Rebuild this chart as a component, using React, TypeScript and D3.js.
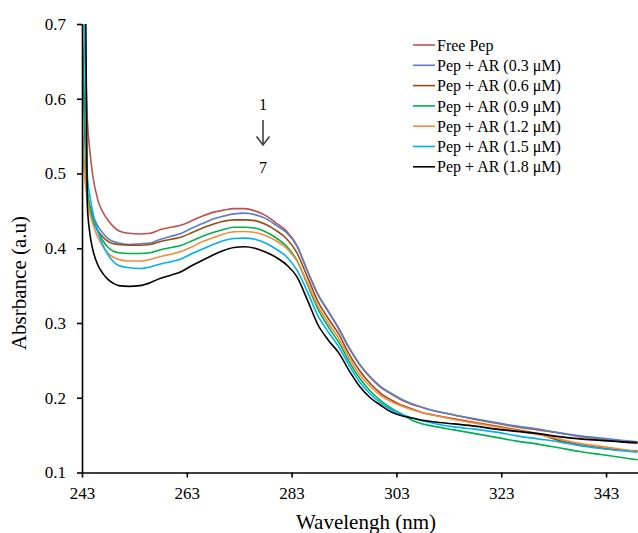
import React, { useEffect, useRef } from "react";
import * as d3 from "d3";

// wavelength grid (nm) shared by every series
const wavelengths = [
  243, 243.5, 244, 244.5, 245, 246, 247, 248, 249, 250,
  252, 254, 256, 258, 260, 262, 264, 266, 268, 270, 272, 274,
  276, 278, 280, 282, 284, 286, 288, 290, 292, 294, 296, 298, 300, 302, 304, 306, 308, 310,
  314, 318, 322, 326, 330, 334, 338, 342, 346, 349,
];

const freePep = [
  0.80, 0.69, 0.575, 0.53, 0.50, 0.465, 0.448, 0.437, 0.429, 0.4235,
  0.420, 0.419, 0.420, 0.425, 0.428, 0.431, 0.437, 0.443, 0.448, 0.451, 0.453, 0.453,
  0.450, 0.444, 0.434, 0.423, 0.404, 0.370, 0.338, 0.315, 0.292, 0.266, 0.244, 0.227, 0.214, 0.205, 0.197, 0.191, 0.187, 0.183,
  0.177, 0.171, 0.166, 0.161, 0.157, 0.153, 0.148, 0.145, 0.141, 0.139,
];
const ar03 = [
  0.56, 0.50, 0.47, 0.455, 0.445, 0.43, 0.42, 0.413, 0.409, 0.407,
  0.405, 0.406, 0.407, 0.412, 0.416, 0.420, 0.427, 0.433, 0.439, 0.443, 0.446, 0.447,
  0.445, 0.440, 0.431, 0.421, 0.403, 0.370, 0.339, 0.316, 0.293, 0.267, 0.245, 0.228, 0.215, 0.206, 0.198, 0.192, 0.187, 0.183,
  0.177, 0.172, 0.167, 0.162, 0.158, 0.153, 0.149, 0.146, 0.143, 0.141,
];
const ar06 = [
  0.70, 0.56, 0.475, 0.455, 0.44, 0.424, 0.415, 0.409, 0.406, 0.405,
  0.404, 0.404, 0.405, 0.409, 0.412, 0.415, 0.421, 0.427, 0.432, 0.436, 0.438, 0.438,
  0.437, 0.432, 0.424, 0.413, 0.394, 0.362, 0.329, 0.306, 0.285, 0.258, 0.236, 0.219, 0.206, 0.197, 0.190, 0.185, 0.180, 0.177,
  0.172, 0.167, 0.162, 0.157, 0.152, 0.143, 0.137, 0.133, 0.130, 0.129,
];
const ar09 = [
  0.70, 0.58, 0.48, 0.455, 0.44, 0.423, 0.410, 0.401, 0.396, 0.394,
  0.393, 0.393, 0.394, 0.398, 0.401, 0.404, 0.410, 0.416, 0.421, 0.425, 0.428, 0.428,
  0.427, 0.422, 0.414, 0.403, 0.384, 0.352, 0.319, 0.295, 0.274, 0.248, 0.226, 0.209, 0.196, 0.186, 0.178, 0.170, 0.165, 0.162,
  0.157, 0.152, 0.147, 0.142, 0.138, 0.133, 0.128, 0.124, 0.120, 0.117,
];
const ar12 = [
  0.575, 0.50, 0.465, 0.447, 0.434, 0.415, 0.402, 0.393, 0.388, 0.385,
  0.383, 0.383, 0.385, 0.389, 0.392, 0.396, 0.402, 0.409, 0.414, 0.419, 0.422, 0.4225,
  0.421, 0.417, 0.410, 0.400, 0.383, 0.354, 0.323, 0.300, 0.279, 0.253, 0.231, 0.215, 0.203, 0.195, 0.189, 0.184, 0.180, 0.177,
  0.171, 0.166, 0.161, 0.156, 0.151, 0.145, 0.139, 0.135, 0.131, 0.128,
];
const ar15 = [
  0.85, 0.68, 0.50, 0.47, 0.45, 0.423, 0.404, 0.391, 0.382, 0.377,
  0.374, 0.373, 0.375, 0.379, 0.382, 0.386, 0.393, 0.399, 0.405, 0.410, 0.413, 0.4135,
  0.412, 0.407, 0.399, 0.389, 0.371, 0.342, 0.310, 0.288, 0.268, 0.243, 0.221, 0.205, 0.193, 0.184, 0.178, 0.173, 0.169, 0.166,
  0.161, 0.158, 0.154, 0.149, 0.145, 0.141, 0.136, 0.132, 0.129, 0.127,
];
const ar18 = [
  1.2, 0.95, 0.46, 0.42, 0.40, 0.378, 0.366, 0.358, 0.353, 0.350,
  0.349, 0.350, 0.354, 0.360, 0.364, 0.369, 0.377, 0.384, 0.391, 0.397, 0.401, 0.402,
  0.400, 0.395, 0.388, 0.378, 0.362, 0.331, 0.298, 0.277, 0.260, 0.236, 0.215, 0.200, 0.190, 0.181, 0.176, 0.173, 0.170, 0.168,
  0.165, 0.162, 0.158, 0.155, 0.152, 0.148, 0.145, 0.143, 0.141, 0.140,
];

const seriesNames = [
  "Free Pep",
  "Pep + AR (0.3 μM)",
  "Pep + AR (0.6 μM)",
  "Pep + AR (0.9 μM)",
  "Pep + AR (1.2 μM)",
  "Pep + AR (1.5 μM)",
  "Pep + AR (1.8 μM)",
];
const seriesValues = [freePep, ar03, ar06, ar09, ar12, ar15, ar18];
const seriesColors = ["#C0504D", "#5B80C2", "#9C4A12", "#00B050", "#F58B3E", "#00B0F0", "#000000"];

const xTicks = [243, 263, 283, 303, 323, 343];
const yTicks = [0.1, 0.2, 0.3, 0.4, 0.5, 0.6, 0.7];

const FONT = "'Liberation Serif', 'Times New Roman', serif";

const App = () => {
  const svgRef = useRef<SVGSVGElement>(null);

  useEffect(() => {
    const width = 638, height = 533;
    const margin = { top: 24, right: 0, bottom: 60.5, left: 82 };

    const svg = d3.select(svgRef.current);
    svg.selectAll("*").remove();

    const x = d3.scaleLinear()
      .domain([243, 349.1])
      .range([margin.left, width - margin.right]);

    const y = d3.scaleLinear()
      .domain([0.1, 0.7])
      .range([height - margin.bottom, margin.top]);

    svg.append("defs").append("clipPath")
      .attr("id", "plot-clip")
      .append("rect")
      .attr("x", margin.left)
      .attr("y", margin.top)
      .attr("width", width - margin.left - margin.right)
      .attr("height", height - margin.top - margin.bottom);

    const line = d3.line<number>()
      .x((_, i) => x(wavelengths[i]))
      .y(d => y(d))
      .curve(d3.curveMonotoneX);

    const plot = svg.append("g").attr("clip-path", "url(#plot-clip)");
    seriesValues.forEach((vals, i) => {
      plot.append("path")
        .datum(vals)
        .attr("fill", "none")
        .attr("stroke", seriesColors[i])
        .attr("stroke-width", 1.6)
        .attr("stroke-linejoin", "round")
        .attr("d", line);
    });

    // X-axis
    const xAxis = svg.append("g")
      .attr("transform", `translate(0,${height - margin.bottom})`)
      .call(d3.axisBottom(x).tickValues(xTicks).tickSize(5).tickSizeOuter(0).tickPadding(9).tickFormat(d3.format("d")));

    // Y-axis
    const yAxis = svg.append("g")
      .attr("transform", `translate(${margin.left},0)`)
      .call(d3.axisLeft(y).tickValues(yTicks).tickSize(5).tickSizeOuter(0).tickPadding(11).tickFormat(d3.format(".1f")));

    [xAxis, yAxis].forEach(g => {
      g.select(".domain").attr("stroke", "#000").attr("stroke-width", 1.6);
      g.selectAll(".tick line").attr("stroke", "#000").attr("stroke-width", 1.6);
      g.selectAll(".tick text")
        .attr("fill", "#000")
        .style("font-family", FONT)
        .style("font-size", "17px");
    });

    // X-axis label
    svg.append("text")
      .attr("x", 366)
      .attr("y", 529)
      .attr("text-anchor", "middle")
      .style("font-family", FONT)
      .style("font-size", "21px")
      .text("Wavelengh (nm)");

    // Y-axis label
    svg.append("text")
      .attr("transform", "translate(26,283) rotate(-90)")
      .attr("text-anchor", "middle")
      .style("font-family", FONT)
      .style("font-size", "21px")
      .text("Absrbance (a.u)");

    // 1 -> 7 annotation
    const note = svg.append("g").style("font-family", FONT).style("font-size", "16px");
    note.append("text").attr("x", 263).attr("y", 110).attr("text-anchor", "middle").text("1");
    note.append("text").attr("x", 263).attr("y", 173).attr("text-anchor", "middle").text("7");
    note.append("line")
      .attr("x1", 263).attr("y1", 120).attr("x2", 263).attr("y2", 145)
      .attr("stroke", "#404040").attr("stroke-width", 1.6);
    note.append("path")
      .attr("d", "M256.5,136.5 L263,145 L269.5,136.5")
      .attr("fill", "none")
      .attr("stroke", "#404040")
      .attr("stroke-width", 1.6);

    // Legend
    const legend = svg.append("g").attr("transform", "translate(413,45)");
    seriesNames.forEach((name, i) => {
      const row = legend.append("g").attr("transform", `translate(0,${i * 20.3})`);
      row.append("line")
        .attr("x1", 0).attr("x2", 22)
        .attr("stroke", seriesColors[i])
        .attr("stroke-width", 1.6);
      row.append("text")
        .attr("x", 24)
        .attr("dy", "0.35em")
        .style("font-family", FONT)
        .style("font-size", "16px")
        .text(name);
    });
  }, []);

  return (
    <div>
      <svg ref={svgRef} width={638} height={533} style={{ position: "absolute", left: 0, top: 0, background: "#fff" }}></svg>
    </div>
  );
};

export default App;
